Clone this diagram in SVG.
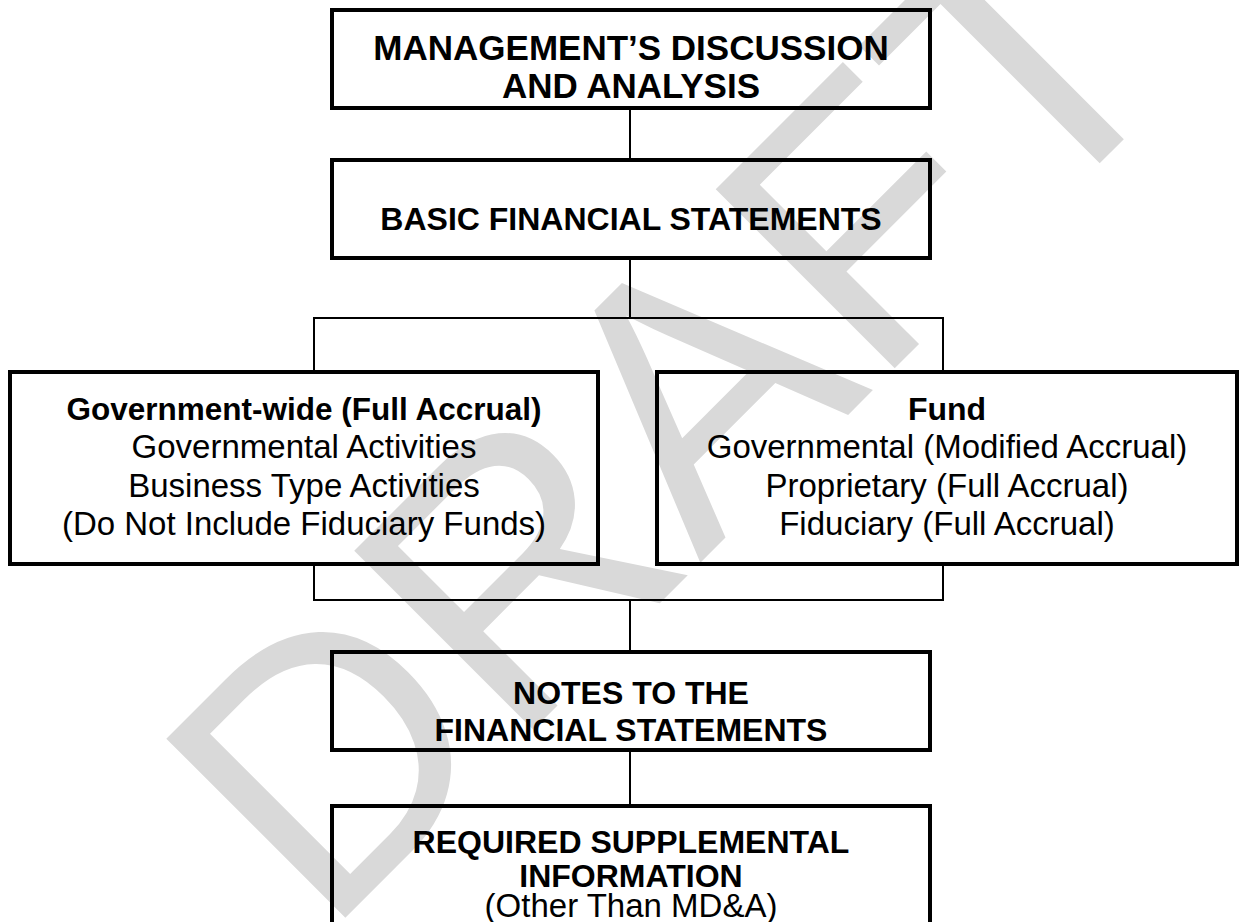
<svg xmlns="http://www.w3.org/2000/svg" width="1248" height="922" viewBox="0 0 1248 922">
<style>
.box{fill:none;stroke:#000;stroke-width:4}
.con{fill:none;stroke:#000;stroke-width:2}
.b{font-family:"Liberation Sans",Arial,sans-serif;font-weight:bold;font-size:32px;text-anchor:middle;fill:#000}
.r{font-family:"Liberation Sans",Arial,sans-serif;font-size:33px;text-anchor:middle;fill:#000}
.wm{font-family:"Liberation Sans",Arial,sans-serif;font-size:368px;fill:#d9d9d9}
</style>
<rect width="1248" height="922" fill="#fff"/>
<g id="watermark"><text class="wm" transform="translate(324,939) rotate(-45)">DRAFT</text></g>
<g id="connectors">
<line class="con" x1="630" y1="108" x2="630" y2="160"/>
<line class="con" x1="630" y1="258" x2="630" y2="318"/>
<polyline class="con" points="314,372 314,318 943,318 943,372"/>
<polyline class="con" points="314,564 314,600 943,600 943,564"/>
<line class="con" x1="630" y1="600" x2="630" y2="652"/>
<line class="con" x1="630" y1="750" x2="630" y2="806"/>
</g>
<g id="mda"><rect class="box" x="332" y="10" width="598" height="98"/>
<text class="b" x="631" y="60" style="font-size:35px">MANAGEMENT’S DISCUSSION</text><text class="b" x="631" y="98" style="font-size:35px">AND ANALYSIS</text></g>
<g id="bfs"><rect class="box" x="332" y="160" width="598" height="98"/>
<text class="b" x="631" y="230">BASIC FINANCIAL STATEMENTS</text></g>
<g id="govwide"><rect class="box" x="10" y="372" width="588" height="192"/>
<text class="b" x="304" y="420" style="font-size:31.5px">Government-wide (Full Accrual)</text>
<text class="r" x="304" y="458">Governmental Activities</text>
<text class="r" x="304" y="497">Business Type Activities</text>
<text class="r" x="304" y="535">(Do Not Include Fiduciary Funds)</text></g>
<g id="fund"><rect class="box" x="657" y="372" width="580" height="192"/>
<text class="b" x="947" y="420">Fund</text>
<text class="r" x="947" y="458">Governmental (Modified Accrual)</text>
<text class="r" x="947" y="497">Proprietary (Full Accrual)</text>
<text class="r" x="947" y="535">Fiduciary (Full Accrual)</text></g>
<g id="notes"><rect class="box" x="332" y="652" width="598" height="98"/>
<text class="b" x="631" y="704">NOTES TO THE</text><text class="b" x="631" y="741">FINANCIAL STATEMENTS</text></g>
<g id="rsi"><rect class="box" x="332" y="806" width="598" height="140"/>
<text class="b" x="631" y="853">REQUIRED SUPPLEMENTAL</text><text class="b" x="631" y="887">INFORMATION</text>
<text class="r" x="631" y="917">(Other Than MD&amp;A)</text></g>
</svg>
